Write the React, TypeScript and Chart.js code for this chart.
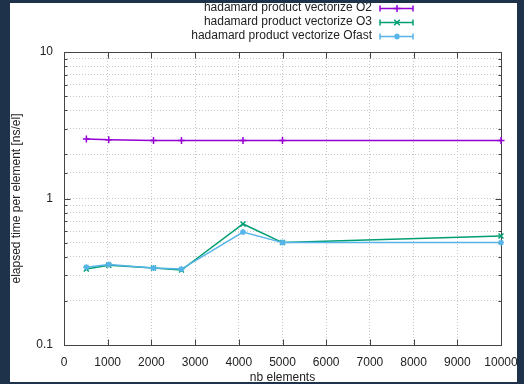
import React, { useEffect, useRef } from "react";
import { Chart, registerables } from "chart.js";
Chart.register(...registerables);

const sizes = [512, 1024, 2048, 2688, 4096, 5000, 10000];
const o2Values = [2.55, 2.52, 2.49, 2.49, 2.49, 2.49, 2.49];
const o3Values = [0.33, 0.35, 0.335, 0.325, 0.67, 0.5, 0.555];
const ofastValues = [0.34, 0.355, 0.335, 0.33, 0.59, 0.5, 0.5];
const seriesNames = [
  "hadamard product vectorize O2",
  "hadamard product vectorize O3",
  "hadamard product vectorize Ofast",
];
const seriesColors = ["#9400d3", "#009e73", "#56b4e9"];
const seriesMarkers = ["cross", "crossRot", "star"];
const seriesMarkerSizes = [3.5, 3.5, 3];
const xTickValues = [0, 1000, 2000, 3000, 4000, 5000, 6000, 7000, 8000, 9000, 10000];
const yTickLabels = [0.1, 1, 10];
const xTitle = "nb elements";
const yTitle = "elapsed time per element [ns/el]";

const FONT = '"Liberation Sans", Arial, sans-serif';
const TEXT = "#222";

function isPow10(v: number) {
  const l = Math.log10(v);
  return Math.abs(l - Math.round(l)) < 1e-6;
}

const plotFrame = {
  id: "plotFrame",
  beforeDatasetsDraw(chart: any) {
    const { ctx, chartArea: a, scales } = chart;
    const L = Math.round(a.left) + 0.5;
    const R = Math.round(a.right) + 0.5;
    const T = Math.round(a.top) + 0.5;
    const B = Math.round(a.bottom) + 0.5;
    ctx.save();
    ctx.strokeStyle = "#444";
    ctx.lineWidth = 1;
    ctx.setLineDash([]);
    ctx.beginPath();
    for (const v of xTickValues) {
      const px = Math.round(scales.x.getPixelForValue(v)) + 0.5;
      ctx.moveTo(px, B);
      ctx.lineTo(px, B - 6);
      ctx.moveTo(px, T);
      ctx.lineTo(px, T + 6);
    }
    for (const t of scales.y.ticks) {
      const py = Math.round(scales.y.getPixelForValue(t.value)) + 0.5;
      const len = isPow10(t.value) ? 6 : 3;
      ctx.moveTo(L, py);
      ctx.lineTo(L + len, py);
      ctx.moveTo(R, py);
      ctx.lineTo(R - len, py);
    }
    ctx.stroke();
    ctx.strokeRect(L, T, R - L, B - T);
    ctx.restore();
  },
};

const keyLegend = {
  id: "keyLegend",
  afterDraw(chart: any) {
    const { ctx } = chart;
    ctx.save();
    ctx.font = `12px ${FONT}`;
    ctx.textAlign = "right";
    ctx.textBaseline = "middle";
    seriesNames.forEach((name, i) => {
      const y = 4.5 + 14.2 * i;
      ctx.fillStyle = TEXT;
      ctx.fillText(name, 364, y);
      const yy = Math.round(y) + 0.5;
      ctx.strokeStyle = seriesColors[i];
      ctx.lineWidth = 1.5;
      ctx.beginPath();
      ctx.moveTo(372, yy);
      ctx.lineTo(405, yy);
      ctx.moveTo(372, yy - 3);
      ctx.lineTo(372, yy + 3);
      ctx.moveTo(405, yy - 3);
      ctx.lineTo(405, yy + 3);
      ctx.stroke();

      const m = seriesMarkers[i];
      const cx = 389;
      const r = seriesMarkerSizes[i];
      ctx.fillStyle = seriesColors[i];
      ctx.beginPath();
      if (m === "cross") {
        ctx.moveTo(cx, yy - r); ctx.lineTo(cx, yy + r);
        ctx.moveTo(cx - r, yy); ctx.lineTo(cx + r, yy);
      } else if (m === "crossRot") {
        ctx.moveTo(cx - r * 0.8, yy - r * 0.8); ctx.lineTo(cx + r * 0.8, yy + r * 0.8);
        ctx.moveTo(cx - r * 0.8, yy + r * 0.8); ctx.lineTo(cx + r * 0.8, yy - r * 0.8);
      } else {
        ctx.moveTo(cx, yy - r); ctx.lineTo(cx, yy + r);
        ctx.moveTo(cx - r, yy); ctx.lineTo(cx + r, yy);
        ctx.moveTo(cx - r * 0.7, yy - r * 0.7); ctx.lineTo(cx + r * 0.7, yy + r * 0.7);
        ctx.moveTo(cx - r * 0.7, yy + r * 0.7); ctx.lineTo(cx + r * 0.7, yy - r * 0.7);
      }
      ctx.stroke();
    });
    ctx.restore();
  },
};

export default function App() {
  const ref = useRef<HTMLCanvasElement | null>(null);
  useEffect(() => {
    if (!ref.current) return;
    const valueSets = [o2Values, o3Values, ofastValues];
    const chart = new Chart(ref.current, {
      type: "line",
      data: {
        datasets: valueSets.map((vals, i) => ({
          label: seriesNames[i],
          data: sizes.map((x, j) => ({ x, y: vals[j] })),
          borderColor: seriesColors[i],
          backgroundColor: seriesColors[i],
          borderWidth: 1.5,
          pointStyle: seriesMarkers[i] as any,
          pointRadius: seriesMarkerSizes[i],
          pointBorderWidth: 1.5,
          pointBorderColor: seriesColors[i],
          pointBackgroundColor: seriesColors[i],
          tension: 0,
          fill: false,
          clip: 8,
          order: 3 - i,
        })),
      },
      options: {
        animation: false,
        responsive: false,
        devicePixelRatio: 1,
        layout: { padding: { top: 49, right: 16, left: 0, bottom: 0 } },
        plugins: { legend: { display: false }, tooltip: { enabled: false } },
        scales: {
          x: {
            type: "linear",
            min: 0,
            max: 10000,
            afterBuildTicks: (s: any) => {
              s.ticks = xTickValues.map((v) => ({ value: v }));
            },
            ticks: {
              color: TEXT,
              font: { family: FONT, size: 12 },
              padding: 10,
              maxRotation: 0,
              autoSkip: false,
              callback: (v: any) => String(v),
            },
            grid: { color: "#c8c8c8", lineWidth: 1, drawTicks: false },
            border: { display: false, dash: [1, 2] },
            title: {
              display: true,
              text: xTitle,
              color: TEXT,
              font: { family: FONT, size: 12 },
              padding: { top: 0, bottom: 3 },
            },
            afterFit: (s: any) => {
              s.height = 43;
              s.paddingLeft = 0;
              s.paddingRight = 0;
            },
          },
          y: {
            type: "logarithmic",
            min: 0.1,
            max: 10,
            ticks: {
              color: TEXT,
              font: { family: FONT, size: 12 },
              padding: 11,
              autoSkip: false,
              callback: (v: any) => {
                const n = Number(v);
                const hit = yTickLabels.find((t) => Math.abs(t - n) / t < 1e-6);
                return hit !== undefined ? String(hit) : "";
              },
            },
            grid: { color: "#c8c8c8", lineWidth: 1, drawTicks: false },
            border: { display: false, dash: [1, 2] },
            title: {
              display: true,
              text: yTitle,
              color: TEXT,
              font: { family: FONT, size: 12 },
              padding: { top: 1, bottom: 0 },
            },
            afterFit: (s: any) => {
              s.width = 56;
              s.paddingTop = 0;
              s.paddingBottom = 0;
            },
          },
        },
      },
      plugins: [plotFrame, keyLegend],
    });
    return () => chart.destroy();
  }, []);

  return (
    <div
      style={{
        position: "fixed",
        left: 0,
        top: 0,
        width: 524,
        height: 384,
        background: "#1e3349",
      }}
    >
      <div
        style={{
          position: "absolute",
          left: 10,
          top: 3,
          width: 507,
          height: 379,
          background: "#ffffff",
          overflow: "hidden",
        }}
      >
        <canvas
          ref={ref}
          width={509}
          height={385}
          style={{ position: "absolute", left: -2, top: 0, width: 509, height: 385 }}
        />
      </div>
    </div>
  );
}
